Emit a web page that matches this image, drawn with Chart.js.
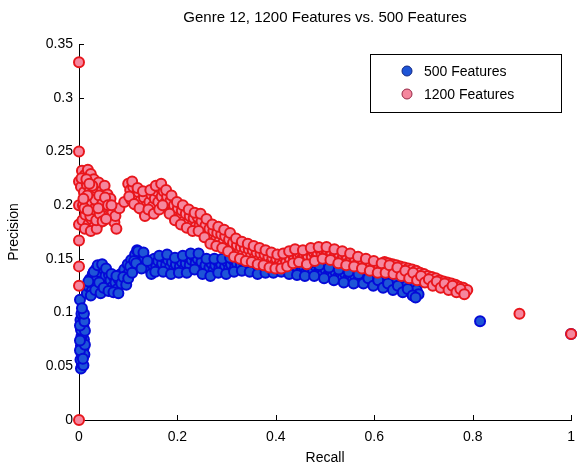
<!DOCTYPE html>
<html>
<head>
<meta charset="utf-8">
<script src="https://cdn.jsdelivr.net/npm/chart.js@4.4.1/dist/chart.umd.min.js"></script>
<style>
  html, body { margin: 0; padding: 0; background: #fff; }
  #wrap { width: 584px; height: 470px; }
</style>
</head>
<body>
<div id="wrap"><canvas id="prChart" width="584" height="470"></canvas></div>
<script>
// recall / precision pairs
const chartTitle = 'Genre 12, 1200 Features vs. 500 Features';
const seriesLabels = ['500 Features', '1200 Features'];

const points500 = [
  [0.004,0.048],[0.006,0.052],[0.003,0.056],[0.008,0.059],[0.005,0.062],[0.009,0.066],[0.004,0.069],
  [0.007,0.072],[0.010,0.075],[0.005,0.078],[0.008,0.081],[0.004,0.084],[0.009,0.087],[0.006,0.090],
  [0.003,0.093],[0.008,0.096],[0.005,0.099],[0.002,0.112],
  [0.009,0.051],[0.011,0.061],[0.002,0.065],[0.012,0.070],[0.002,0.074],[0.012,0.083],[0.002,0.088],
  [0.011,0.092],[0.010,0.099],[0.006,0.104],[0.008,0.057],
  [0.016,0.118],[0.020,0.124],[0.022,0.131],[0.026,0.120],[0.028,0.136],[0.031,0.127],[0.034,0.140],
  [0.036,0.132],[0.039,0.122],[0.042,0.143],[0.045,0.137],[0.048,0.129],[0.051,0.140],[0.054,0.134],
  [0.058,0.126],[0.061,0.135],[0.064,0.130],[0.068,0.124],[0.071,0.133],[0.074,0.128],[0.078,0.122],
  [0.081,0.131],[0.085,0.136],[0.088,0.128],[0.092,0.140],[0.095,0.134],[0.099,0.145],[0.102,0.138],
  [0.106,0.149],[0.110,0.143],[0.114,0.154],[0.118,0.158],[0.121,0.150],[0.125,0.155],[0.129,0.146],
  [0.133,0.151],[0.137,0.142],[0.141,0.147],[0.145,0.140],[0.149,0.145],[0.153,0.150],[0.157,0.143],
  [0.161,0.148],[0.165,0.141],[0.169,0.146],[0.173,0.151],[0.177,0.144],[0.181,0.149],[0.185,0.142],
  [0.189,0.147],[0.193,0.140],[0.197,0.145],[0.201,0.150],[0.205,0.143],[0.209,0.147],[0.213,0.140],
  [0.217,0.146],[0.221,0.151],[0.225,0.144],[0.229,0.149],[0.233,0.153],[0.237,0.146],[0.241,0.150],
  [0.245,0.143],[0.249,0.147],[0.253,0.140],[0.257,0.144],[0.261,0.137],[0.265,0.142],[0.269,0.146],
  [0.273,0.139],[0.277,0.144],[0.281,0.148],[0.285,0.141],[0.289,0.145],[0.293,0.139],[0.297,0.143],
  [0.301,0.147],[0.305,0.141],[0.309,0.145],[0.313,0.149],[0.317,0.142],[0.321,0.146],[0.325,0.150],
  [0.329,0.144],[0.333,0.148],[0.337,0.141],[0.341,0.145],[0.345,0.149],[0.349,0.143],[0.353,0.147],
  [0.357,0.141],[0.361,0.145],[0.365,0.139],[0.369,0.144],[0.373,0.148],[0.377,0.142],[0.381,0.146],
  [0.385,0.140],[0.389,0.144],[0.393,0.148],[0.397,0.142],[0.401,0.146],[0.405,0.140],[0.409,0.144],
  [0.413,0.148],[0.417,0.142],[0.421,0.146],[0.425,0.140],[0.429,0.144],[0.433,0.138],[0.437,0.142],
  [0.441,0.146],[0.445,0.140],[0.449,0.144],[0.453,0.139],[0.457,0.143],[0.461,0.137],[0.466,0.141],
  [0.471,0.145],[0.476,0.139],[0.481,0.143],[0.486,0.137],[0.491,0.141],[0.496,0.136],[0.501,0.140],
  [0.506,0.135],[0.511,0.139],[0.516,0.134],[0.521,0.138],[0.526,0.133],[0.531,0.137],[0.536,0.132],
  [0.541,0.136],[0.546,0.131],[0.551,0.135],[0.556,0.130],[0.561,0.134],[0.566,0.129],[0.571,0.133],
  [0.576,0.137],[0.581,0.131],[0.586,0.135],[0.591,0.129],[0.596,0.133],[0.601,0.128],[0.606,0.132],
  [0.611,0.127],[0.616,0.131],[0.621,0.126],[0.626,0.130],[0.631,0.125],[0.636,0.129],[0.641,0.124],
  [0.646,0.128],[0.651,0.123],[0.656,0.127],[0.661,0.122],[0.666,0.125],[0.671,0.120],[0.676,0.123],
  [0.681,0.118],[0.686,0.121],[0.690,0.117],
  [0.019,0.129],[0.024,0.116],[0.030,0.138],[0.033,0.121],[0.038,0.144],[0.041,0.128],[0.044,0.118],
  [0.047,0.145],[0.050,0.123],[0.055,0.141],[0.060,0.120],[0.066,0.136],[0.070,0.119],[0.076,0.134],
  [0.080,0.118],[0.086,0.127],[0.090,0.133],[0.096,0.126],[0.100,0.132],[0.104,0.143],[0.108,0.137],
  [0.112,0.148],[0.116,0.146],[0.120,0.157],[0.127,0.141],[0.131,0.156],[0.139,0.148],[0.147,0.136],
  [0.155,0.138],[0.163,0.153],[0.171,0.138],[0.179,0.154],[0.187,0.136],[0.195,0.151],[0.203,0.137],
  [0.211,0.153],[0.219,0.137],[0.227,0.155],[0.235,0.140],[0.243,0.155],[0.251,0.136],[0.259,0.150],
  [0.267,0.134],[0.275,0.150],[0.283,0.137],[0.291,0.150],[0.299,0.136],[0.307,0.151],[0.315,0.138],
  [0.323,0.152],[0.331,0.139],[0.339,0.150],[0.347,0.138],[0.355,0.151],[0.363,0.136],[0.371,0.150],
  [0.379,0.137],[0.387,0.150],[0.395,0.137],[0.403,0.151],[0.411,0.138],[0.419,0.150],[0.427,0.136],
  [0.435,0.147],[0.443,0.135],[0.451,0.148],[0.459,0.134],[0.468,0.146],[0.478,0.134],[0.488,0.144],
  [0.498,0.132],[0.508,0.142],[0.518,0.130],[0.528,0.140],[0.538,0.128],[0.548,0.138],[0.558,0.127],
  [0.568,0.136],[0.578,0.127],[0.588,0.132],[0.598,0.125],[0.608,0.130],[0.618,0.123],[0.628,0.127],
  [0.638,0.121],[0.648,0.125],[0.658,0.119],[0.668,0.122],[0.678,0.116],[0.684,0.114],
  [0.815,0.092],[1.000,0.080]
];

const points1200 = [
  [0,0],[0,0.333],[0,0.25],[0,0.222],[0,0.2],[0,0.182],[0,0.167],[0,0.143],[0,0.125],
  [0.006,0.232],[0.012,0.228],[0.018,0.233],[0.024,0.229],[0.030,0.224],[0.004,0.217],[0.010,0.212],
  [0.016,0.219],[0.022,0.214],[0.028,0.209],[0.034,0.216],[0.040,0.221],[0.046,0.213],[0.052,0.218],
  [0.058,0.210],[0.064,0.206],[0.008,0.200],[0.014,0.205],[0.020,0.196],[0.026,0.201],[0.032,0.193],
  [0.038,0.204],[0.044,0.198],[0.050,0.202],[0.056,0.195],[0.062,0.199],[0.068,0.193],[0.007,0.186],
  [0.013,0.191],[0.019,0.182],[0.025,0.187],[0.031,0.180],[0.037,0.189],[0.043,0.184],[0.049,0.190],
  [0.012,0.178],[0.024,0.176],[0.036,0.178],[0.072,0.184],[0.076,0.178],[0.074,0.190],[0.082,0.197],
  [0.092,0.203],
  [0.005,0.225],[0.015,0.224],[0.027,0.218],[0.033,0.205],[0.041,0.209],[0.047,0.201],[0.053,0.207],
  [0.059,0.200],[0.066,0.200],[0.011,0.197],[0.017,0.209],[0.023,0.190],[0.029,0.196],[0.035,0.186],
  [0.042,0.192],[0.048,0.185],[0.055,0.187],[0.018,0.195],[0.009,0.206],[0.021,0.220],[0.039,0.197],
  [0.100,0.220],[0.104,0.214],[0.106,0.205],[0.110,0.217],[0.114,0.209],[0.117,0.200],[0.121,0.212],
  [0.125,0.204],[0.128,0.196],[0.132,0.207],[0.136,0.199],[0.139,0.192],[0.143,0.203],[0.147,0.210],
  [0.150,0.199],[0.154,0.206],[0.158,0.213],[0.161,0.203],[0.165,0.216],[0.168,0.208],[0.172,0.213],
  [0.175,0.202],[0.179,0.208],[0.182,0.198],[0.186,0.204],[0.190,0.194],[0.193,0.200],[0.197,0.190],
  [0.201,0.197],[0.205,0.188],[0.209,0.195],[0.213,0.185],[0.217,0.192],[0.221,0.183],[0.225,0.190],
  [0.229,0.181],[0.233,0.188],[0.237,0.180],[0.241,0.189],[0.245,0.181],[0.249,0.185],[0.253,0.176],
  [0.257,0.181],[0.261,0.172],[0.265,0.178],[0.269,0.169],[0.273,0.176],[0.277,0.167],[0.281,0.174],
  [0.285,0.166],[0.289,0.173],[0.293,0.165],[0.297,0.171],[0.301,0.163],[0.305,0.168],[0.309,0.160],
  [0.313,0.165],[0.317,0.157],[0.321,0.163],[0.325,0.155],[0.329,0.161],[0.333,0.154],[0.337,0.160],
  [0.341,0.153],[0.345,0.159],[0.349,0.152],[0.353,0.158],[0.357,0.151],[0.361,0.156],[0.365,0.149],
  [0.369,0.155],[0.373,0.148],[0.377,0.154],[0.381,0.147],[0.385,0.152],[0.389,0.146],[0.393,0.151],
  [0.397,0.145],[0.401,0.150],[0.405,0.144],[0.409,0.149],[0.413,0.145],[0.417,0.151],[0.421,0.147],
  [0.425,0.153],[0.429,0.149],[0.433,0.155],[0.437,0.150],[0.441,0.156],[0.445,0.151],[0.449,0.155],
  [0.453,0.150],[0.457,0.154],[0.461,0.149],[0.465,0.153],[0.469,0.157],[0.473,0.152],[0.477,0.156],
  [0.481,0.151],[0.485,0.155],[0.489,0.159],[0.493,0.154],[0.497,0.158],[0.501,0.153],[0.505,0.157],
  [0.509,0.152],[0.513,0.156],[0.517,0.151],[0.521,0.155],[0.525,0.150],[0.529,0.154],[0.533,0.149],
  [0.537,0.153],[0.541,0.148],[0.545,0.152],[0.549,0.147],[0.553,0.151],[0.557,0.146],[0.561,0.150],
  [0.565,0.145],[0.569,0.149],[0.573,0.144],[0.577,0.148],[0.581,0.143],[0.585,0.147],[0.589,0.142],
  [0.593,0.146],[0.597,0.141],[0.601,0.145],[0.605,0.140],[0.609,0.144],[0.613,0.139],[0.617,0.143],
  [0.621,0.147],[0.625,0.142],[0.629,0.146],[0.633,0.141],[0.637,0.145],[0.641,0.140],[0.645,0.144],
  [0.649,0.139],[0.653,0.143],[0.657,0.138],[0.661,0.142],[0.665,0.137],[0.669,0.141],[0.673,0.136],
  [0.677,0.140],[0.681,0.135],[0.685,0.139],[0.689,0.134],[0.693,0.137],[0.697,0.132],[0.701,0.136],
  [0.705,0.131],[0.709,0.134],[0.713,0.129],[0.717,0.133],[0.721,0.128],[0.725,0.132],[0.729,0.127],
  [0.733,0.130],[0.737,0.126],[0.741,0.129],[0.745,0.125],[0.749,0.128],[0.753,0.124],[0.757,0.127],
  [0.761,0.123],[0.765,0.126],[0.769,0.122],[0.773,0.124],[0.777,0.120],[0.781,0.123],[0.785,0.119],
  [0.789,0.121],
  [0.102,0.208],[0.108,0.222],[0.112,0.201],[0.119,0.216],[0.123,0.197],[0.130,0.213],[0.134,0.190],
  [0.141,0.196],[0.145,0.214],[0.152,0.192],[0.156,0.218],[0.163,0.196],[0.167,0.220],[0.170,0.200],
  [0.177,0.214],[0.184,0.192],[0.188,0.209],[0.195,0.186],[0.199,0.203],[0.207,0.182],[0.211,0.200],
  [0.219,0.179],[0.223,0.196],[0.231,0.176],[0.235,0.193],[0.243,0.176],[0.247,0.192],[0.255,0.170],
  [0.259,0.187],[0.267,0.164],[0.271,0.182],[0.279,0.162],[0.283,0.180],[0.291,0.160],[0.295,0.177],
  [0.303,0.157],[0.307,0.174],[0.315,0.152],[0.319,0.169],[0.327,0.150],[0.331,0.166],[0.339,0.148],
  [0.343,0.164],[0.351,0.147],[0.355,0.162],[0.363,0.145],[0.367,0.160],[0.375,0.144],[0.379,0.158],
  [0.387,0.142],[0.391,0.156],[0.399,0.141],[0.403,0.154],[0.411,0.141],[0.415,0.155],[0.423,0.143],
  [0.427,0.157],[0.435,0.146],[0.439,0.159],[0.447,0.147],[0.455,0.158],[0.463,0.145],[0.471,0.160],
  [0.479,0.148],[0.487,0.161],[0.495,0.150],[0.503,0.161],[0.511,0.149],[0.519,0.159],[0.527,0.146],
  [0.535,0.157],[0.543,0.144],[0.551,0.155],[0.559,0.143],[0.567,0.152],[0.575,0.141],[0.583,0.150],
  [0.591,0.139],[0.599,0.148],[0.607,0.137],[0.615,0.146],[0.623,0.137],[0.631,0.144],[0.639,0.136],
  [0.647,0.142],[0.655,0.134],[0.663,0.139],[0.671,0.132],[0.679,0.137],[0.687,0.130],[0.695,0.134],
  [0.703,0.128],[0.711,0.131],[0.719,0.125],[0.727,0.129],[0.735,0.123],[0.743,0.127],[0.751,0.121],
  [0.759,0.125],[0.767,0.119],[0.775,0.122],[0.783,0.117],
  [0.895,0.099],[1.000,0.080]
];

const FONT = 'Arial, "Liberation Sans", sans-serif';
const fmt = v => String(Math.round(v * 100) / 100);

// matlab style ticks pointing into the plot
const inwardTicks = {
  id: 'inwardTicks',
  beforeDatasetsDraw(chart) {
    const {ctx, chartArea, scales} = chart;
    ctx.save();
    ctx.strokeStyle = '#000';
    ctx.lineWidth = 1;
    ctx.beginPath();
    scales.x.ticks.forEach(t => {
      const px = Math.round(scales.x.getPixelForValue(t.value)) + 0.5;
      ctx.moveTo(px, chartArea.bottom);
      ctx.lineTo(px, chartArea.bottom - 5);
    });
    scales.y.ticks.forEach(t => {
      const py = Math.round(scales.y.getPixelForValue(t.value)) + 0.5;
      ctx.moveTo(chartArea.left, py);
      ctx.lineTo(chartArea.left + 5, py);
    });
    ctx.stroke();
    ctx.restore();
  }
};

// title centred over the axes, not the canvas
const axesTitle = {
  id: 'axesTitle',
  afterDraw(chart) {
    const {ctx, chartArea} = chart;
    ctx.save();
    ctx.font = '15px ' + FONT;
    ctx.fillStyle = '#000';
    ctx.textAlign = 'center';
    ctx.textBaseline = 'middle';
    ctx.fillText(chartTitle, (chartArea.left + chartArea.right) / 2, 18);
    ctx.restore();
  }
};

// boxed legend inside the axes, top right
const boxLegend = {
  id: 'boxLegend',
  afterDraw(chart) {
    const {ctx} = chart;
    const x = 370, y = 54, w = 191, h = 58;
    ctx.save();
    ctx.fillStyle = '#fff';
    ctx.fillRect(x, y, w, h);
    ctx.strokeStyle = '#000';
    ctx.lineWidth = 1;
    ctx.strokeRect(x + 0.5, y + 0.5, w, h);
    ctx.font = '14px ' + FONT;
    ctx.textBaseline = 'middle';
    chart.data.datasets.forEach((ds, i) => {
      const cy = y + 17 + i * 23;
      ctx.beginPath();
      ctx.arc(x + 37, cy, 5, 0, Math.PI * 2);
      ctx.fillStyle = ds.backgroundColor;
      ctx.fill();
      ctx.lineWidth = 1;
      ctx.strokeStyle = ds.legendEdge;
      ctx.stroke();
      ctx.fillStyle = '#000';
      ctx.fillText(ds.label, x + 54, cy + 1);
    });
    ctx.restore();
  }
};

const ctx = document.getElementById('prChart').getContext('2d');

new Chart(ctx, {
  type: 'scatter',
  data: {
    datasets: [
      {
        label: seriesLabels[0],
        data: points500.map(p => ({x: p[0], y: p[1]})),
        backgroundColor: 'rgb(30,85,215)',
        borderColor: 'rgb(5,10,215)',
        legendEdge: 'rgb(20,40,130)',
        borderWidth: 2,
        pointRadius: 5,
        order: 2,
        clip: false
      },
      {
        label: seriesLabels[1],
        data: points1200.map(p => ({x: p[0], y: p[1]})),
        backgroundColor: 'rgb(245,135,158)',
        borderColor: 'rgb(232,22,28)',
        legendEdge: 'rgb(150,40,70)',
        borderWidth: 2,
        pointRadius: 5,
        order: 1,
        clip: false
      }
    ]
  },
  options: {
    responsive: false,
    animation: false,
    layout: { padding: { top: 44, right: 5, bottom: 0, left: 0 } },
    plugins: {
      legend: { display: false },
      tooltip: { enabled: false },
      title: { display: false }
    },
    scales: {
      x: {
        type: 'linear',
        min: 0,
        max: 1,
        grid: { display: false, drawTicks: false },
        border: { display: true, color: '#000', width: 1 },
        ticks: {
          stepSize: 0.2,
          padding: 9,
          color: '#000',
          font: { family: FONT, size: 14 },
          maxRotation: 0,
          callback: v => fmt(v)
        },
        title: {
          display: true,
          text: 'Recall',
          color: '#000',
          font: { family: FONT, size: 14 },
          padding: { top: 0, bottom: 3 }
        },
        afterFit: s => { s.height = 50; }
      },
      y: {
        type: 'linear',
        min: 0,
        max: 0.35,
        grid: { display: false, drawTicks: false },
        border: { display: true, color: '#000', width: 1 },
        ticks: {
          stepSize: 0.05,
          padding: 6,
          color: '#000',
          font: { family: FONT, size: 14 },
          callback: v => fmt(v)
        },
        title: {
          display: true,
          text: 'Precision',
          color: '#000',
          font: { family: FONT, size: 14 },
          padding: { top: 6, bottom: 0 }
        },
        afterFit: s => { s.width = 79; }
      }
    }
  },
  plugins: [inwardTicks, axesTitle, boxLegend]
});
</script>
</body>
</html>
